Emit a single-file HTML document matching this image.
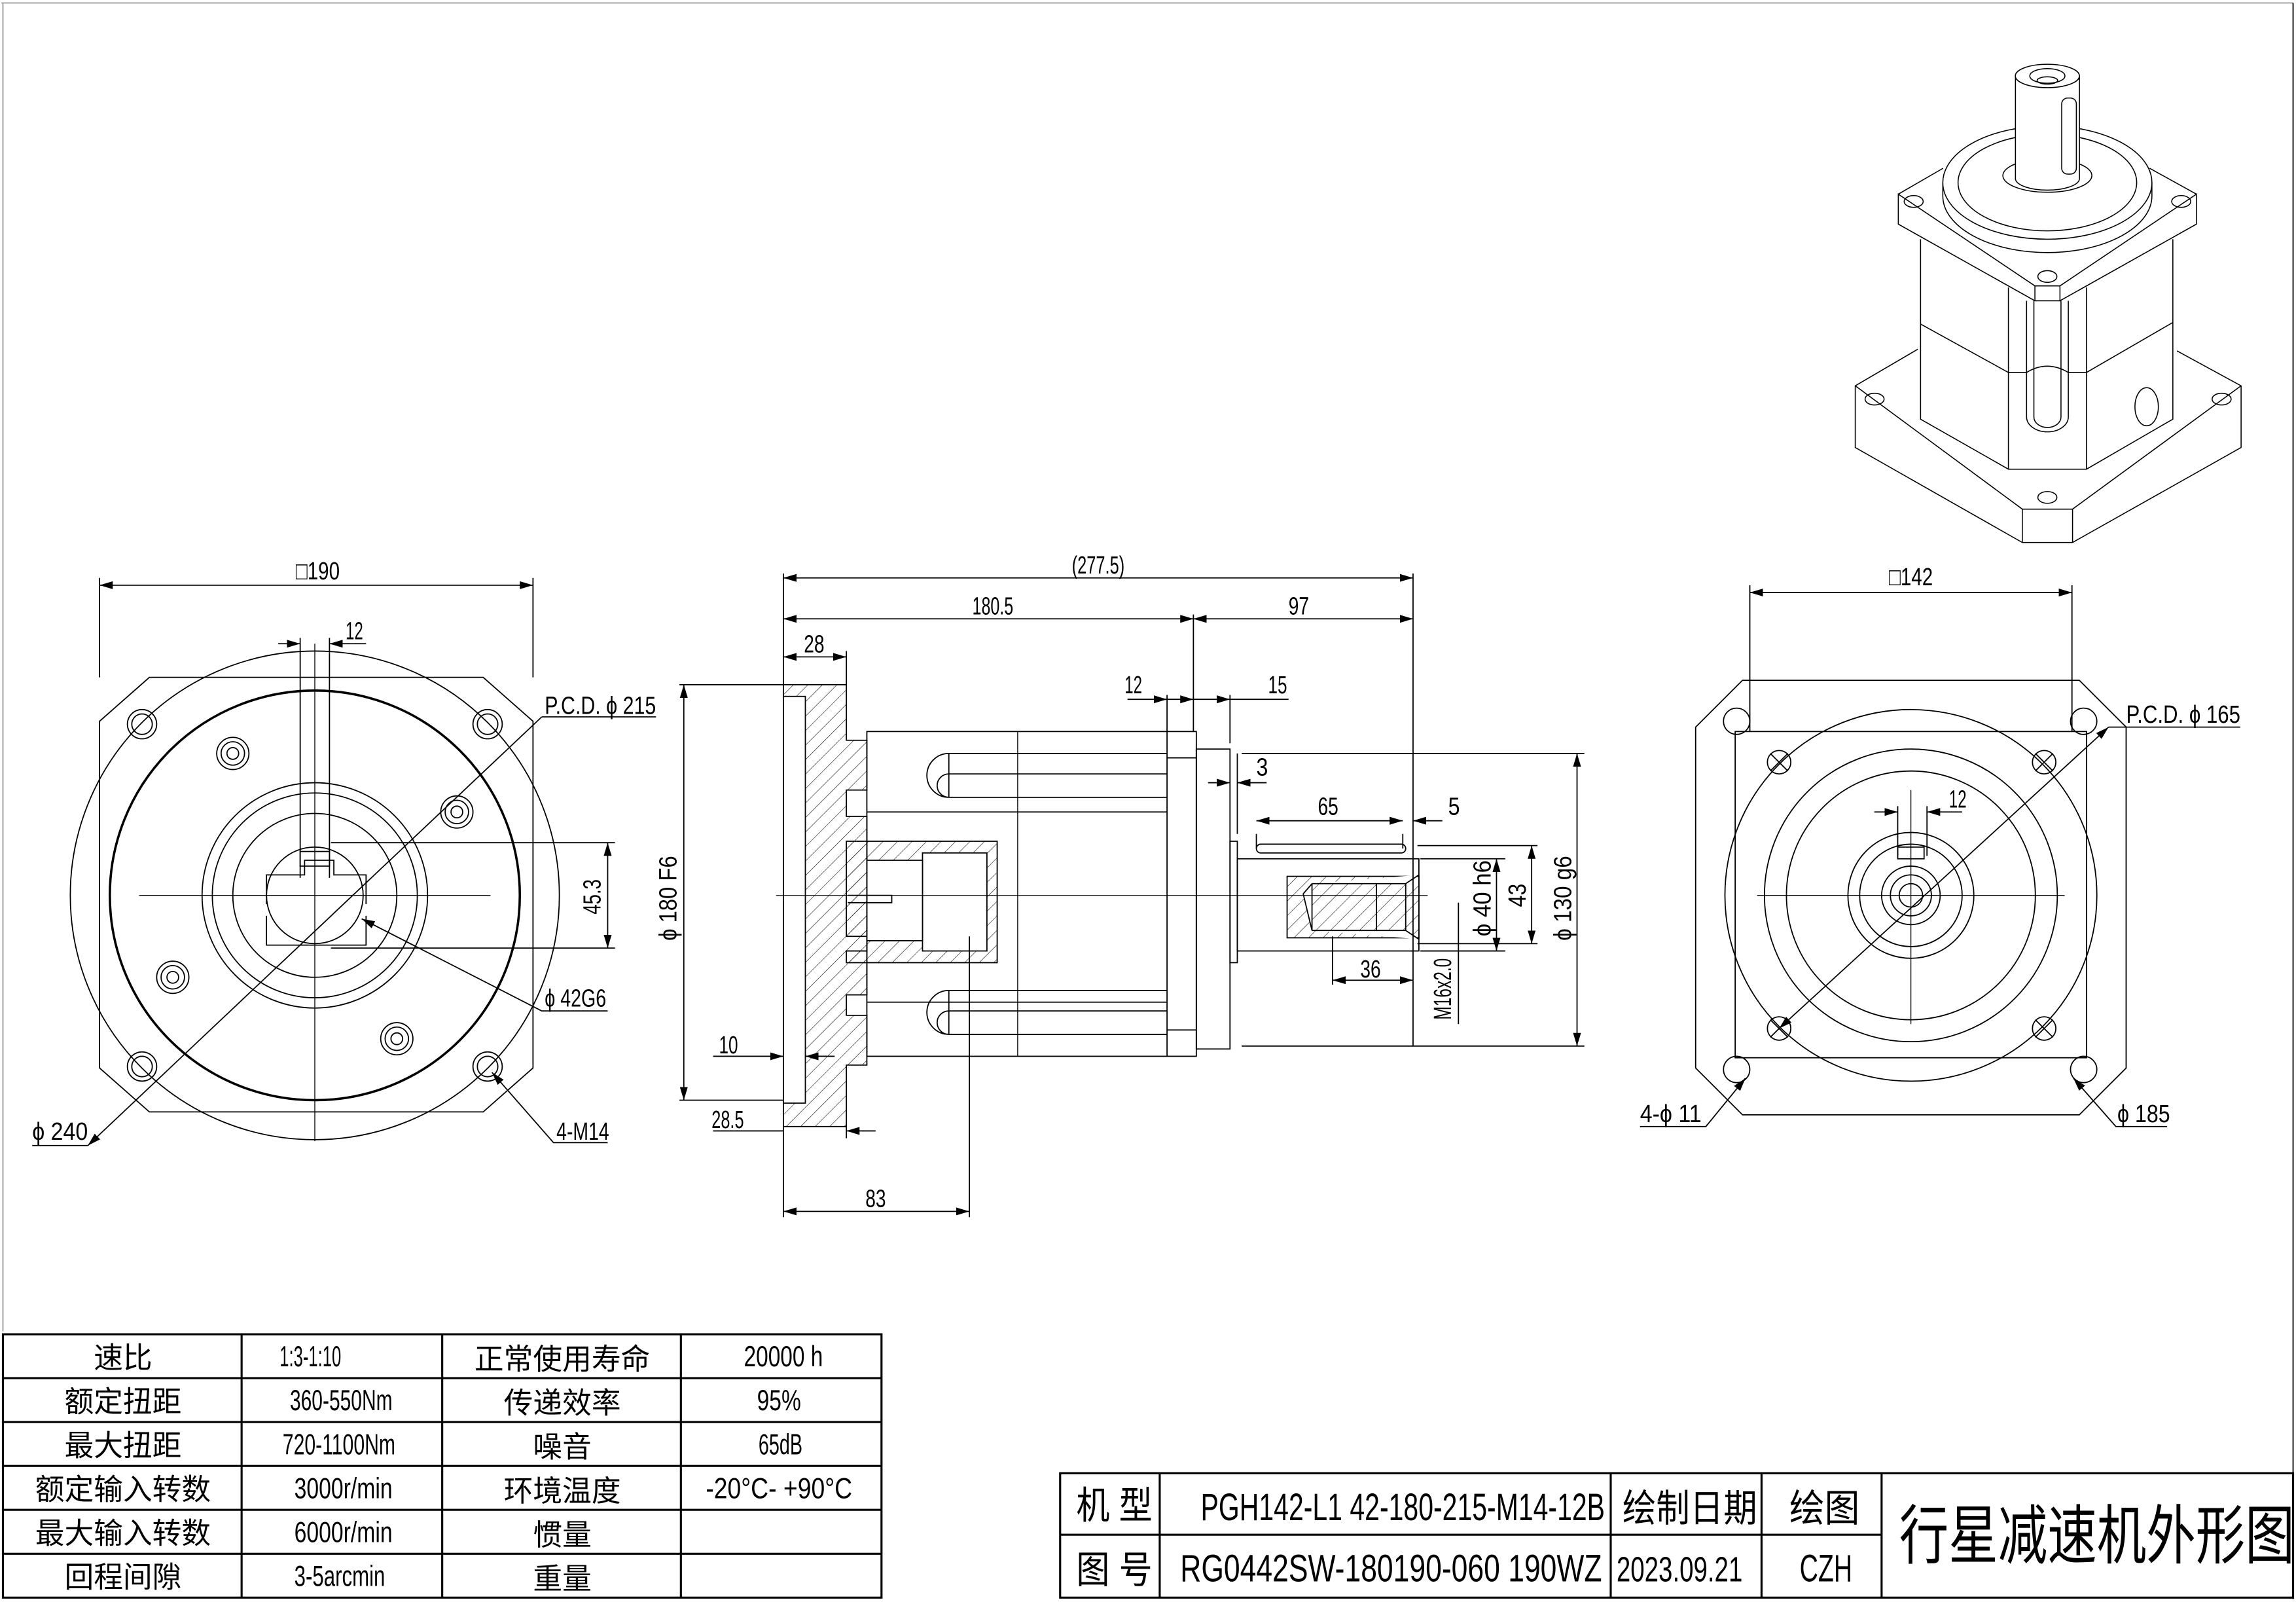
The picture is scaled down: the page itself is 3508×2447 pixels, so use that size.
<!DOCTYPE html>
<html><head><meta charset="utf-8"><style>
html,body{margin:0;padding:0;background:#fff}
svg{display:block}
text{font-family:"Liberation Sans Narrow","Liberation Sans","Noto Sans CJK SC",sans-serif;fill:#000}
.c{font-family:"Liberation Sans","Noto Sans CJK SC",sans-serif}
</style></head><body>
<svg width="3508" height="2447" viewBox="0 0 1568 1095" preserveAspectRatio="none" xmlns="http://www.w3.org/2000/svg">
<defs>
<pattern id="h" width="7" height="7" patternUnits="userSpaceOnUse" patternTransform="rotate(45)"><line x1="0" y1="0" x2="0" y2="7" stroke="#000" stroke-width="0.5"/></pattern>
<marker id="a" viewBox="0 0 10 10" refX="10" refY="5" markerWidth="9" markerHeight="9" markerUnits="userSpaceOnUse" orient="auto-start-reverse"><path d="M0,2 L10,5 L0,8 z" fill="#000"/></marker>
</defs>
<rect x="0" y="0" width="1568" height="1095" fill="#fff"/>
<g fill="none" stroke="#000" stroke-width="0.8">
<line x1="1" y1="2" x2="1566" y2="2" stroke="#999"/>
<line x1="2" y1="2" x2="2" y2="910" stroke="#999"/>
<line x1="1566" y1="2" x2="1566" y2="1093"/>

<!-- LEFT VIEW -->
<polygon points="102,463 330,463 364,493 364,730 330,760 102,760 68,730 68,493"/>
<circle cx="215" cy="612" r="167"/>
<circle cx="215" cy="612" r="140" stroke-width="1.6"/>
<circle cx="215" cy="612" r="77"/>
<circle cx="215" cy="612" r="70"/>
<circle cx="215" cy="612" r="56"/>
<circle cx="215" cy="612" r="33"/>
<path d="M182,618 v-20 h26 v-10 h20 v10 h22 v20 M182,626 v20 h68 v-20"/>
<rect x="205" y="582" width="20" height="10"/>
<line x1="95" y1="612" x2="335" y2="612" stroke-width="0.6"/>
<line x1="215" y1="440" x2="215" y2="780" stroke-width="0.6"/>
<line x1="205" y1="436" x2="205" y2="600"/><line x1="225" y1="436" x2="225" y2="600"/>
<line x1="190" y1="440" x2="205" y2="440" marker-end="url(#a)"/><line x1="250" y1="440" x2="225" y2="440" marker-end="url(#a)"/>
<g>
<circle cx="97" cy="495" r="10"/><circle cx="97" cy="495" r="7"/>
<circle cx="333" cy="495" r="10"/><circle cx="333" cy="495" r="7"/>
<circle cx="97" cy="729" r="10"/><circle cx="97" cy="729" r="7"/>
<circle cx="333" cy="729" r="10"/><circle cx="333" cy="729" r="7"/>
<circle cx="159" cy="515" r="11"/><circle cx="159" cy="515" r="8"/><circle cx="159" cy="515" r="4"/>
<circle cx="312" cy="555" r="11"/><circle cx="312" cy="555" r="8"/><circle cx="312" cy="555" r="4"/>
<circle cx="118" cy="668" r="11"/><circle cx="118" cy="668" r="8"/><circle cx="118" cy="668" r="4"/>
<circle cx="271" cy="710" r="11"/><circle cx="271" cy="710" r="8"/><circle cx="271" cy="710" r="4"/>
</g>
<line x1="68" y1="463" x2="68" y2="395"/><line x1="364" y1="463" x2="364" y2="395"/>
<line x1="68" y1="400" x2="364" y2="400" marker-start="url(#a)" marker-end="url(#a)"/>
<line x1="60" y1="783" x2="370" y2="490" marker-start="url(#a)"/>
<polyline points="370,490 448,490"/>
<line x1="22" y1="783" x2="60" y2="783"/>
<line x1="226" y1="576" x2="420" y2="576"/><line x1="226" y1="648" x2="420" y2="648"/>
<line x1="415" y1="576" x2="415" y2="648" marker-start="url(#a)" marker-end="url(#a)"/>
<polyline points="415,691 370,691 247,628" marker-end="url(#a)"/>
<polyline points="415,781 378,781 336,733" marker-end="url(#a)"/>

<!-- MIDDLE VIEW -->
<path d="M535,468 H578 V506 H592 V540 H578 V558 H592 V680 H578 V694 H592 V728 H578 V770 H535 Z" fill="url(#h)"/>
<rect x="535" y="476" width="15" height="278" fill="#fff"/>
<path d="M578,575 H681 V658 H578 V650 H592 V640 H578 Z" fill="url(#h)"/>
<rect x="630" y="583" width="44" height="67" fill="#fff"/>
<rect x="592" y="588" width="38" height="55" fill="#fff"/>
<path d="M579,612 h30 v5 h-30"/>
<rect x="592" y="500" width="225" height="222"/>
<line x1="695" y1="500" x2="695" y2="722" stroke-width="0.6"/>
<line x1="797" y1="500" x2="797" y2="722"/>
<line x1="797" y1="518" x2="817" y2="518"/><line x1="797" y1="704" x2="817" y2="704"/>
<path d="M797,555 H592 M797,685 H592"/>
<path d="M797,515 H648 A14,14 0 0 0 648,545 H797 M648,529 H797 M648,529 A8,8 0 0 0 648,545 M648,515 V545"/>
<path d="M797,677 H648 A14,14 0 0 0 648,707 H797 M648,691 H797 M648,691 A8,8 0 0 0 648,707 M648,677 V707"/>
<rect x="817" y="512" width="23" height="205"/>
<rect x="840" y="575" width="5" height="83"/>
<rect x="845" y="587" width="124" height="63"/>
<rect x="858" y="577" width="102" height="6" rx="3"/>
<rect x="879" y="599" width="90" height="42" fill="url(#h)"/>
<path d="M896,604 H960 L969,598 M896,636 H960 L969,642 M896,604 L890,611 L896,636 M896,604 V636 M940,604 V636 M960,604 V636" fill="#fff"/>
<line x1="530" y1="612" x2="975" y2="612" stroke-width="0.5"/>
<line x1="535" y1="468" x2="535" y2="392"/><line x1="965" y1="392" x2="965" y2="715"/>
<line x1="535" y1="395" x2="965" y2="395" marker-start="url(#a)" marker-end="url(#a)"/>
<line x1="815" y1="420" x2="815" y2="500"/>
<line x1="535" y1="423" x2="815" y2="423" marker-start="url(#a)" marker-end="url(#a)"/>
<line x1="815" y1="423" x2="965" y2="423" marker-start="url(#a)" marker-end="url(#a)"/>
<line x1="578" y1="445" x2="578" y2="468"/>
<line x1="535" y1="449" x2="578" y2="449" marker-start="url(#a)" marker-end="url(#a)"/>
<line x1="797" y1="475" x2="797" y2="500"/><line x1="840" y1="475" x2="840" y2="508"/>
<line x1="770" y1="478" x2="797" y2="478" marker-end="url(#a)"/>
<line x1="815" y1="478" x2="797" y2="478" marker-start="url(#a)"/>
<line x1="815" y1="478" x2="840" y2="478" marker-end="url(#a)"/>
<line x1="840" y1="478" x2="880" y2="478"/>
<line x1="845" y1="515" x2="845" y2="570"/>
<line x1="825" y1="535" x2="840" y2="535" marker-end="url(#a)"/>
<line x1="865" y1="535" x2="845" y2="535" marker-end="url(#a)"/>
<line x1="858" y1="570" x2="858" y2="580"/><line x1="958" y1="570" x2="958" y2="580"/>
<line x1="858" y1="561" x2="958" y2="561" marker-start="url(#a)" marker-end="url(#a)"/>
<line x1="985" y1="561" x2="965" y2="561" marker-end="url(#a)"/>
<line x1="848" y1="515" x2="1082" y2="515"/><line x1="848" y1="715" x2="1082" y2="715"/>
<line x1="1077" y1="515" x2="1077" y2="715" marker-start="url(#a)" marker-end="url(#a)"/>
<line x1="968" y1="578" x2="1050" y2="578"/><line x1="968" y1="645" x2="1050" y2="645"/>
<line x1="1046" y1="578" x2="1046" y2="645" marker-start="url(#a)" marker-end="url(#a)"/>
<line x1="970" y1="587" x2="1028" y2="587"/><line x1="970" y1="650" x2="1028" y2="650"/>
<line x1="1022" y1="587" x2="1022" y2="650" marker-start="url(#a)" marker-end="url(#a)"/>
<line x1="910" y1="640" x2="910" y2="673"/>
<line x1="910" y1="670" x2="965" y2="670" marker-start="url(#a)" marker-end="url(#a)"/>
<line x1="996" y1="617" x2="996" y2="700"/>
<line x1="464" y1="468" x2="535" y2="468"/><line x1="464" y1="752" x2="535" y2="752"/>
<line x1="467" y1="468" x2="467" y2="752" marker-start="url(#a)" marker-end="url(#a)"/>
<line x1="487" y1="722" x2="535" y2="722" marker-end="url(#a)"/>
<line x1="570" y1="722" x2="550" y2="722" marker-end="url(#a)"/>
<line x1="487" y1="773" x2="535" y2="773"/>
<line x1="598" y1="773" x2="578" y2="773" marker-end="url(#a)"/>
<line x1="578" y1="770" x2="578" y2="778"/>
<line x1="535" y1="770" x2="535" y2="832"/><line x1="662" y1="640" x2="662" y2="832"/>
<line x1="535" y1="828" x2="662" y2="828" marker-start="url(#a)" marker-end="url(#a)"/>

<!-- RIGHT VIEW -->
<polygon points="1190,465 1420,465 1452,497 1452,730 1420,762 1190,762 1158,730 1158,497"/>
<rect x="1185" y="500" width="240" height="223"/>
<circle cx="1305" cy="612" r="127"/>
<circle cx="1305" cy="612" r="100"/>
<circle cx="1305" cy="612" r="85"/>
<circle cx="1305" cy="612" r="43"/>
<circle cx="1305" cy="612" r="35"/>
<circle cx="1305" cy="612" r="20"/>
<circle cx="1305" cy="612" r="14"/>
<circle cx="1305" cy="612" r="8"/>
<rect x="1296" y="579" width="18" height="8"/>
<line x1="1200" y1="612" x2="1410" y2="612" stroke-width="0.6"/>
<line x1="1305" y1="540" x2="1305" y2="700" stroke-width="0.6"/>
<circle cx="1186" cy="493" r="9"/><circle cx="1423" cy="493" r="9"/><circle cx="1186" cy="731" r="9"/><circle cx="1423" cy="731" r="9"/>
<g>
<circle cx="1215" cy="521" r="8"/><circle cx="1396" cy="521" r="8"/><circle cx="1215" cy="703" r="8"/><circle cx="1396" cy="703" r="8"/>
<path d="M1209,515 l12,12 M1221,515 l-12,12 M1390,515 l12,12 M1402,515 l-12,12 M1209,697 l12,12 M1221,697 l-12,12 M1390,697 l12,12 M1402,697 l-12,12"/>
</g>
<line x1="1195" y1="400" x2="1195" y2="500"/><line x1="1415" y1="400" x2="1415" y2="500"/>
<line x1="1195" y1="405" x2="1415" y2="405" marker-start="url(#a)" marker-end="url(#a)"/>
<line x1="1215" y1="703" x2="1440" y2="497" marker-start="url(#a)" marker-end="url(#a)"/>
<line x1="1440" y1="497" x2="1530" y2="497"/>
<line x1="1296" y1="551" x2="1296" y2="585"/><line x1="1316" y1="551" x2="1316" y2="585"/>
<line x1="1280" y1="555" x2="1296" y2="555" marker-end="url(#a)"/>
<line x1="1340" y1="555" x2="1316" y2="555" marker-end="url(#a)"/>
<polyline points="1120,770 1165,770 1192,737" marker-end="url(#a)"/>
<polyline points="1480,770 1445,770 1416,737" marker-end="url(#a)"/>

<!-- ISOMETRIC -->
<g stroke-width="0.7">
<path d="M1309.7,238.7 L1267,263.7 V305.9 L1381.1,370.8 H1415.4 L1530.5,305.9 V263.7 L1486.7,239.8"/>
<path d="M1267,263.7 L1381.1,348 H1415.4 L1530.5,263.7 M1381.1,348 V370.8 M1415.4,348 V370.8"/>
<ellipse cx="1280.2" cy="272.8" rx="6.5" ry="4"/><ellipse cx="1517.2" cy="272.8" rx="6.5" ry="4"/><ellipse cx="1398.2" cy="340" rx="6.5" ry="4"/>
<path d="M1311.6,163.5 V286.5 L1371.6,320.7 H1424.9 L1483.9,286.5 V163.5"/>
<path d="M1311.6,221.5 L1371.6,254.6 H1384 Q1398,246 1412.5,254.6 H1424.9 L1483.9,220.4"/>
<path d="M1371.6,196.5 V320.7 M1424.9,196.5 V320.7"/>
<path d="M1384,205.6 V285 A14,10 0 0 0 1412.5,285 V205.6 M1389,205.6 V285 A9,7 0 0 0 1407.5,285 V205.6"/>
<ellipse cx="1466" cy="278" rx="8" ry="13"/>
<path d="M1296.4,132.7 L1327,115 M1500,132.7 L1468,115 M1296.4,132.7 V153.2 L1389.7,205.6 H1406.8 L1500,153.2 V132.7 L1406.8,195.4 H1389.7 Z M1389.7,195.4 V205.6 M1406.8,195.4 V205.6"/>
<ellipse cx="1306.9" cy="137.7" rx="6.5" ry="4"/><ellipse cx="1489.6" cy="137.7" rx="6.5" ry="4"/><ellipse cx="1398.2" cy="189" rx="6.5" ry="4"/>
<path d="M1326.8,124.8 V134 A71.4,38.7 0 0 0 1469.6,134 V124.8" fill="#fff"/>
<ellipse cx="1398.2" cy="124.8" rx="71.4" ry="38.7" fill="#fff"/>
<ellipse cx="1398.2" cy="124.8" rx="61" ry="33"/>
<ellipse cx="1398.2" cy="120" rx="30.4" ry="11.4"/>
<path d="M1376.4,51.9 V122.5 A21.9,8 0 0 0 1420.1,122.5 V51.9" fill="#fff"/>
<ellipse cx="1398.2" cy="51.9" rx="21.9" ry="8" fill="#fff"/>
<ellipse cx="1398.2" cy="51.9" rx="12" ry="5"/>
<ellipse cx="1398.2" cy="55" rx="7" ry="2.5"/>
<rect x="1408" y="67" width="10" height="52" rx="4"/>
</g>

<!-- TABLES -->
<g stroke-width="1.4">
<rect x="2" y="912" width="600" height="180"/>
<line x1="2" y1="942" x2="602" y2="942"/><line x1="2" y1="972" x2="602" y2="972"/><line x1="2" y1="1002" x2="602" y2="1002"/><line x1="2" y1="1032" x2="602" y2="1032"/><line x1="2" y1="1062" x2="602" y2="1062"/>
<line x1="165" y1="912" x2="165" y2="1092"/><line x1="302" y1="912" x2="302" y2="1092"/><line x1="465" y1="912" x2="465" y2="1092"/>
<rect x="724" y="1007" width="842" height="85"/>
<line x1="724" y1="1049" x2="1285" y2="1049"/>
<line x1="792" y1="1007" x2="792" y2="1092"/><line x1="1100" y1="1007" x2="1100" y2="1092"/><line x1="1203" y1="1007" x2="1203" y2="1092"/><line x1="1285" y1="1007" x2="1285" y2="1092"/>
</g>
</g>

<!-- TEXT -->
<g font-size="17">
<text x="202" y="396" textLength="30" lengthAdjust="spacingAndGlyphs">□190</text>
<text x="236" y="437" textLength="12" lengthAdjust="spacingAndGlyphs">12</text>
<text x="372" y="488" textLength="76" lengthAdjust="spacingAndGlyphs">P.C.D.   ϕ 215</text>
<text x="22" y="779" textLength="38" lengthAdjust="spacingAndGlyphs">ϕ 240</text>
<text x="372" y="688" textLength="42" lengthAdjust="spacingAndGlyphs">ϕ 42G6</text>
<text x="380" y="779" textLength="36" lengthAdjust="spacingAndGlyphs">4-M14</text>
<text transform="translate(410,625) rotate(-90)" textLength="24" lengthAdjust="spacingAndGlyphs">45.3</text>
<text x="732" y="392" textLength="36" lengthAdjust="spacingAndGlyphs">(277.5)</text>
<text x="664" y="420" textLength="28" lengthAdjust="spacingAndGlyphs">180.5</text>
<text x="880" y="420" textLength="14" lengthAdjust="spacingAndGlyphs">97</text>
<text x="549" y="446" textLength="14" lengthAdjust="spacingAndGlyphs">28</text>
<text x="768" y="474" textLength="12" lengthAdjust="spacingAndGlyphs">12</text>
<text x="866" y="474" textLength="13" lengthAdjust="spacingAndGlyphs">15</text>
<text x="858" y="530" textLength="8" lengthAdjust="spacingAndGlyphs">3</text>
<text x="900" y="557" textLength="14" lengthAdjust="spacingAndGlyphs">65</text>
<text x="989" y="557" textLength="8" lengthAdjust="spacingAndGlyphs">5</text>
<text x="929" y="668" textLength="14" lengthAdjust="spacingAndGlyphs">36</text>
<text x="491" y="720" textLength="13" lengthAdjust="spacingAndGlyphs">10</text>
<text x="486" y="771" textLength="22" lengthAdjust="spacingAndGlyphs">28.5</text>
<text x="591" y="825" textLength="14" lengthAdjust="spacingAndGlyphs">83</text>
<text transform="translate(462,643) rotate(-90)" textLength="58" lengthAdjust="spacingAndGlyphs">ϕ 180 F6</text>
<text transform="translate(1073,643) rotate(-90)" textLength="58" lengthAdjust="spacingAndGlyphs">ϕ 130 g6</text>
<text transform="translate(1042,620) rotate(-90)" textLength="16" lengthAdjust="spacingAndGlyphs">43</text>
<text transform="translate(1018,640) rotate(-90)" textLength="52" lengthAdjust="spacingAndGlyphs">ϕ 40 h6</text>
<text transform="translate(991,697) rotate(-90)" textLength="42" lengthAdjust="spacingAndGlyphs">M16x2.0</text>
<text x="1290" y="400" textLength="30" lengthAdjust="spacingAndGlyphs">□142</text>
<text x="1331" y="552" textLength="12" lengthAdjust="spacingAndGlyphs">12</text>
<text x="1452" y="494" textLength="78" lengthAdjust="spacingAndGlyphs">P.C.D.   ϕ 165</text>
<text x="1120" y="767" textLength="42" lengthAdjust="spacingAndGlyphs">4-ϕ 11</text>
<text x="1446" y="767" textLength="36" lengthAdjust="spacingAndGlyphs">ϕ 185</text>
</g>

<g font-size="20" text-anchor="middle" class="c">
<text x="84" y="935">速比</text><text x="84" y="965">额定扭距</text><text x="84" y="995">最大扭距</text><text x="84" y="1025">额定输入转数</text><text x="84" y="1055">最大输入转数</text><text x="84" y="1085">回程间隙</text>
<text x="384" y="936">正常使用寿命</text><text x="384" y="966">传递效率</text><text x="384" y="996">噪音</text><text x="384" y="1026">环境温度</text><text x="384" y="1056">惯量</text><text x="384" y="1086">重量</text>
</g>
<g font-size="20">
<text x="191" y="934" textLength="42" lengthAdjust="spacingAndGlyphs">1:3-1:10</text>
<text x="198" y="964" textLength="70" lengthAdjust="spacingAndGlyphs">360-550Nm</text>
<text x="193" y="994" textLength="77" lengthAdjust="spacingAndGlyphs">720-1100Nm</text>
<text x="201" y="1024" textLength="67" lengthAdjust="spacingAndGlyphs">3000r/min</text>
<text x="201" y="1054" textLength="67" lengthAdjust="spacingAndGlyphs">6000r/min</text>
<text x="201" y="1084" textLength="62" lengthAdjust="spacingAndGlyphs">3-5arcmin</text>
<text x="508" y="934" textLength="54" lengthAdjust="spacingAndGlyphs">20000 h</text>
<text x="517" y="964" textLength="30" lengthAdjust="spacingAndGlyphs">95%</text>
<text x="518" y="994" textLength="30" lengthAdjust="spacingAndGlyphs">65dB</text>
<text x="482" y="1024" textLength="100" lengthAdjust="spacingAndGlyphs">-20°C- +90°C</text>
</g>
<g font-size="26">
<text x="735" y="1038" class="c" textLength="52" lengthAdjust="spacingAndGlyphs">机 型</text>
<text x="735" y="1082" class="c" textLength="52" lengthAdjust="spacingAndGlyphs">图 号</text>
<text x="820" y="1039" font-size="26" textLength="276" lengthAdjust="spacingAndGlyphs">PGH142-L1 42-180-215-M14-12B</text>
<text x="806" y="1081" font-size="26" textLength="288" lengthAdjust="spacingAndGlyphs">RG0442SW-180190-060  190WZ</text>
<text x="1108" y="1040" class="c" textLength="92" lengthAdjust="spacingAndGlyphs">绘制日期</text>
<text x="1222" y="1040" class="c" textLength="48" lengthAdjust="spacingAndGlyphs">绘图</text>
<text x="1104" y="1081" font-size="24" textLength="86" lengthAdjust="spacingAndGlyphs">2023.09.21</text>
<text x="1229" y="1081" font-size="26" textLength="36" lengthAdjust="spacingAndGlyphs">CZH</text>
<text x="1297" y="1065" font-size="44" class="c" textLength="270" lengthAdjust="spacingAndGlyphs">行星减速机外形图</text>
</g>
</svg>
</body></html>
